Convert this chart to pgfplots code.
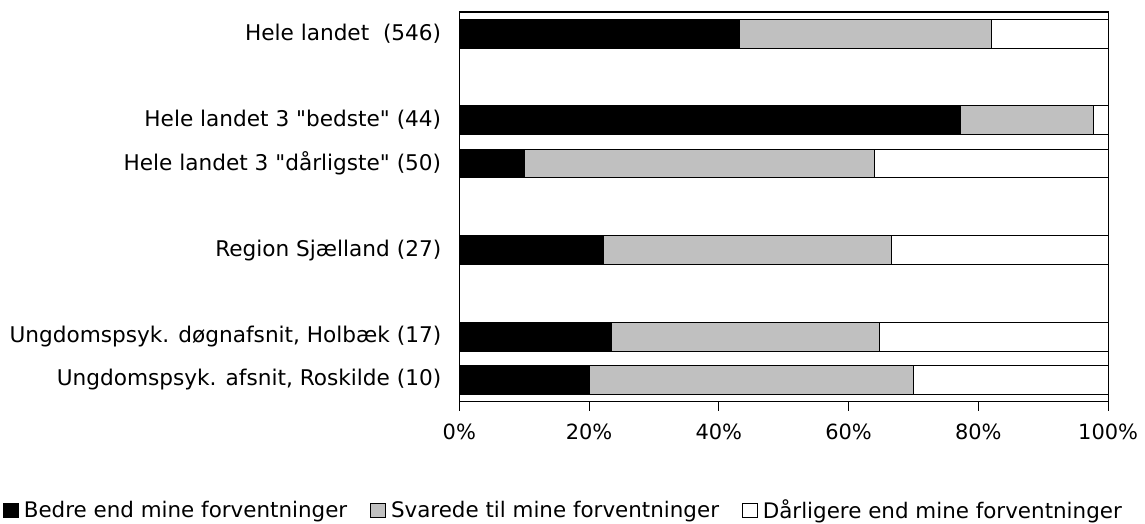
\documentclass[border=0pt]{standalone}
\usepackage{fontspec}
\setmainfont{DejaVu Sans}
\usepackage{pgfplots}
\pgfplotsset{compat=1.18}
\definecolor{silverg}{RGB}{192,192,192}
\begin{document}
\fontsize{21}{25}\selectfont
\begin{tikzpicture}
\begin{axis}[
 xbar stacked,
 width=651pt, height=391pt, scale only axis,
 xmin=0, xmax=100, ymin=-0.5, ymax=8.5, y dir=reverse,
 bar width=29pt,
 ytick={0,2,3,5,7,8},
 yticklabels={{Hele landet\ \ (546)},{Hele landet 3 \textquotedbl bedste\textquotedbl\ (44)},{Hele landet 3 \textquotedbl dårligste\textquotedbl\ (50)},{Region Sjælland (27)},{Ungdomspsyk. døgnafsnit, Holbæk (17)},{Ungdomspsyk. afsnit, Roskilde (10)}},
 ytick style={draw=none},
 yticklabel style={font=\fontsize{21.7}{25}\selectfont, xshift=-2pt},
 xtick={0,20,40,60,80,100},
 xticklabels={0\%,20\%,40\%,60\%,80\%,100\%},
 xticklabel style={font=\fontsize{21}{24}\selectfont, yshift=-6pt},
 tick align=outside, xtick pos=bottom, ytick pos=left,
 major tick length=9pt,
 xtick style={black, line width=0.8pt},
 axis line style={black, line width=1.2pt},
 /pgf/number format/assume math mode=true,
 legend style={at={(axis description cs:0.1605,-0.28)}, anchor=center, legend columns=3, draw=none, fill=none,
   font=\fontsize{21.5}{25}\selectfont, inner sep=0pt,
   /tikz/every even column/.append style={column sep=21pt}},
 legend image code/.code={\draw[#1, line width=0.8pt] (0pt,-7pt) rectangle (15pt,7pt); \path (18pt,0pt);},
 clip=false,
]
\addplot[fill=black, draw=black, line width=1pt] coordinates {(43.2,0) (77.3,2) (10,3) (22.2,5) (23.5,7) (20,8)};
\addplot[fill=silverg, draw=black, line width=1pt] coordinates {(38.8,0) (20.5,2) (54,3) (44.4,5) (41.2,7) (50,8)};
\addplot[fill=white, draw=black, line width=1pt] coordinates {(18,0) (2.2,2) (36,3) (33.4,5) (35.3,7) (30,8)};
\legend{Bedre end mine forventninger, Svarede til mine forventninger, Dårligere end mine forventninger}
\path (axis description cs:-0.708,-0.3043) rectangle (axis description cs:1.0507,1.0307);
\end{axis}
\end{tikzpicture}
\end{document}
